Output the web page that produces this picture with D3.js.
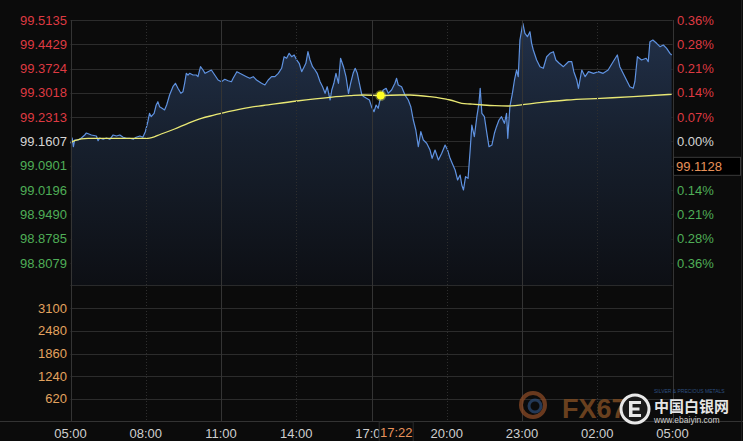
<!DOCTYPE html>
<html><head><meta charset="utf-8">
<script src="https://cdn.jsdelivr.net/npm/d3@7"></script>
<style>
html,body{margin:0;padding:0;background:#0b0b0b;}
svg{display:block;}
</style></head>
<body>
<script>
// ---------- DATA ----------
const startLabel = "05:00";
const priceMinutes = [
0,4,7,10,18,26,34,38,50,62,
66,70,78,86,94,102,110,118,126,134,
142,150,157,166,173,179,185,189,193,200,
205,209,213,219,225,230,237,245,251,257,
264,269,273,277,281,285,293,301,305,311,
317,322,329,337,345,353,361,369,377,385,
389,398,405,413,421,429,437,445,457,465,
473,481,489,497,505,511,517,523,529,535,
541,547,553,559,563,568,573,579,585,590,
597,603,609,614,621,625,630,635,641,646,
653,659,665,670,676,681,686,691,697,702,
708,715,720,726,731,736,742,748,755,760,
768,776,780,784,792,800,808,814,820,826,
832,838,844,852,860,865,872,880,888,896,
902,908,913,920,926,932,936,940,945,951,
956,960,966,972,977,980,984,990,996,1001,
1008,1014,1019,1025,1031,1038,1043,1046,1051,1057,
1062,1067,1071,1075,1082,1087,1093,1099,1103,1107,
1115,1123,1131,1139,1147,1155,1161,1169,1179,1191,
1199,1204,1211,1215,1223,1231,1239,1251,1262,1274,
1286,1298,1308,1314,1326,1338,1346,1350,1356,1366,
1377,1382,1386,1393,1402,1410,1418,1426,1434,1438];
const priceValues = [
99.1555,99.1709,99.1456,99.1651,99.1651,99.1709,99.1796,99.1854,99.1796,99.1767,
99.1630,99.1709,99.1671,99.1709,99.1671,99.1796,99.1767,99.1796,99.1729,99.1700,
99.1700,99.1671,99.1729,99.1767,99.1729,99.1892,99.2182,99.2426,99.2327,99.2426,
99.2667,99.2763,99.2618,99.2571,99.2522,99.2667,99.2957,99.3198,99.3297,99.3152,
99.3007,99.3053,99.3297,99.3587,99.3538,99.3587,99.3538,99.3538,99.3489,99.3779,
99.3683,99.3587,99.3634,99.3683,99.3538,99.3393,99.3343,99.3413,99.3372,99.3343,
99.3442,99.3634,99.3587,99.3538,99.3489,99.3442,99.3489,99.3393,99.3297,99.3248,
99.3393,99.3489,99.3489,99.3587,99.3733,99.4069,99.4023,99.4168,99.4069,99.4119,
99.3974,99.3878,99.3634,99.3779,99.3878,99.4215,99.3974,99.3779,99.3683,99.3587,
99.3343,99.3198,99.3007,99.3198,99.2812,99.3102,99.3297,99.3587,99.3297,99.4023,
99.3779,99.3489,99.3007,99.3297,99.3587,99.3733,99.3587,99.3297,99.2957,99.2908,
99.2861,99.2812,99.2618,99.2472,99.2667,99.2571,99.2908,99.3102,99.3152,99.3007,
99.3102,99.3297,99.3442,99.3248,99.3198,99.2957,99.2812,99.2618,99.2231,99.1941,
99.1456,99.1892,99.1651,99.1555,99.1360,99.1119,99.1360,99.1070,99.1264,99.1505,
99.1360,99.1119,99.0974,99.0779,99.0489,99.0634,99.0344,99.0199,99.0585,99.0538,
99.1360,99.2086,99.1746,99.2327,99.2716,99.3152,99.2426,99.2327,99.1845,99.1456,
99.1505,99.1845,99.2037,99.2231,99.2327,99.2136,99.2426,99.1700,99.2618,99.3007,
99.3393,99.3683,99.3489,99.4554,99.5039,99.4749,99.4650,99.4795,99.4458,99.4264,
99.3974,99.3779,99.3733,99.4069,99.4168,99.4215,99.3974,99.3878,99.3779,99.3924,
99.3924,99.3634,99.3393,99.3152,99.3683,99.3489,99.3634,99.3587,99.3634,99.3587,
99.3683,99.3924,99.4119,99.3779,99.3489,99.3198,99.3152,99.3343,99.4069,99.3974,
99.4023,99.3924,99.4505,99.4554,99.4458,99.4360,99.4409,99.4313,99.4168,99.4119];
const avgMinutes = [0,10,42,74,114,154,185,217,249,281,313,345,377,429,461,541,621,669,700,742,
788,812,860,908,936,956,987,1015,1047,1107,1187,1267,1346,1438];
const avgValues = [99.1563,99.1630,99.1700,99.1700,99.1700,99.1700,99.1700,99.1825,99.1970,99.2136,
99.2281,99.2377,99.2472,99.2600,99.2652,99.2783,99.2890,99.2937,99.2957,99.2943,
99.2957,99.2957,99.2908,99.2812,99.2716,99.2696,99.2667,99.2647,99.2638,99.2716,
99.2812,99.2861,99.2908,99.2978];
const priceTickLabels = ["99.5135","99.4429","99.3724","99.3018","99.2313","99.1607","99.0901","99.0196","98.9490","98.8785","98.8079"];
const basePrice = 99.1607;
const pctTickLabels = ["0.36%","0.28%","0.21%","0.14%","0.07%","0.00%","0.07%","0.14%","0.21%","0.28%","0.36%"];
const volumeTicks = [620,1240,1860,2480,3100];
const volumeMax = 3720;
const timeTickLabels = ["05:00","08:00","11:00","14:00","17:00","20:00","23:00","02:00","05:00"];
const timeTickMinutes = [0,180,360,540,720,900,1080,1260,1440];
const solidTimeLines = ["11:00","17:00","23:00"];
const markerMinute = 742, markerValue = 99.2943, markerLabel = "17:22";
const cursorPriceLabel = "99.1128", cursorPriceIndex = 6;

// ---------- LAYOUT ----------
const W = 743, H = 441;
const L = 70.5, R = 672.5;
const mainTop = 20, mainBot = 285.5, volTop = 285.5, volBot = 421.5;

const svg = d3.select("body").append("svg").attr("width", W).attr("height", H)
  .style("font-family", "'Liberation Sans', Arial, sans-serif");
svg.append("rect").attr("width", W).attr("height", H).attr("fill", "#0b0b0b");

const x = d3.scaleLinear().domain([0, 1440]).range([L, R]);
const y = d3.scaleLinear().domain([+priceTickLabels[priceTickLabels.length-1], +priceTickLabels[0]]).range([263, mainTop]);
const yv = d3.scaleLinear().domain([0, volumeMax]).range([volBot, volTop]);

const defs = svg.append("defs");
const grad = defs.append("linearGradient").attr("id", "areaGrad")
  .attr("gradientUnits", "userSpaceOnUse").attr("x1", 0).attr("x2", 0).attr("y1", mainTop).attr("y2", mainBot);
grad.append("stop").attr("offset", 0).attr("stop-color", "#22314a");
grad.append("stop").attr("offset", 0.45).attr("stop-color", "#17202e");
grad.append("stop").attr("offset", 1).attr("stop-color", "#0d0f14");
defs.append("clipPath").attr("id", "mainClip").append("rect")
  .attr("x", L).attr("y", mainTop).attr("width", R - L).attr("height", mainBot - mainTop);

// horizontal grid (main)
const gridColor = "#2c2c2c";
svg.append("g").selectAll("line").data(priceTickLabels).join("line")
  .attr("x1", L).attr("x2", R).attr("y1", d => Math.round(y(+d)) + 0.5).attr("y2", d => Math.round(y(+d)) + 0.5)
  .attr("stroke", gridColor).attr("stroke-width", 1);
// volume grid
svg.append("g").selectAll("line").data(volumeTicks).join("line")
  .attr("x1", L).attr("x2", R).attr("y1", d => Math.round(yv(d)) + 0.5).attr("y2", d => Math.round(yv(d)) + 0.5)
  .attr("stroke", gridColor);
// panel divider
svg.append("line").attr("x1", L).attr("x2", R).attr("y1", mainBot).attr("y2", mainBot).attr("stroke", "#333");
// bottom axis line
svg.append("line").attr("x1", 0).attr("x2", W).attr("y1", volBot).attr("y2", volBot).attr("stroke", "#333");

// area + lines
const priceData = d3.zip(priceMinutes, priceValues);
const avgData = d3.zip(avgMinutes, avgValues);
const g = svg.append("g").attr("clip-path", "url(#mainClip)");
g.append("path").datum(priceData)
  .attr("d", d3.area().x(d => x(d[0])).y0(mainBot).y1(d => y(d[1])))
  .attr("fill", "url(#areaGrad)");

// vertical grid
timeTickLabels.forEach((lab, i) => {
  const xx = Math.round(x(timeTickMinutes[i])) + 0.5;
  const solid = solidTimeLines.includes(lab) || i === 0 || i === timeTickLabels.length - 1;
  svg.append("line").attr("x1", xx).attr("x2", xx).attr("y1", mainTop).attr("y2", volBot)
    .attr("stroke", solid ? "#343434" : "#2e2e2e").attr("stroke-dasharray", solid ? null : "1,2");
});
svg.append("line").attr("x1", 741.5).attr("x2", 741.5).attr("y1", 0).attr("y2", H).attr("stroke", "#1e1e1e");

g.append("path").datum(priceData)
  .attr("d", d3.line().x(d => x(d[0])).y(d => y(d[1])))
  .attr("fill", "none").attr("stroke", "#5f92e0").attr("stroke-width", 1.2).attr("stroke-linejoin", "round");
g.append("path").datum(avgData)
  .attr("d", d3.line().curve(d3.curveMonotoneX).x(d => x(d[0])).y(d => y(d[1])))
  .attr("fill", "none").attr("stroke", "#e9e874").attr("stroke-width", 1.3);

// marker dot
svg.append("circle").attr("cx", x(markerMinute)).attr("cy", y(markerValue)).attr("r", 5.5).attr("fill", "#ffff66").attr("opacity", 0.35);
svg.append("circle").attr("cx", x(markerMinute)).attr("cy", y(markerValue)).attr("r", 4).attr("fill", "#ffff22");

// left labels
const red = "#de3a42", green = "#4fae57", white = "#d6d6d6";
const baseIdx = priceTickLabels.indexOf(basePrice.toFixed(4));
svg.append("g").selectAll("text").data(priceTickLabels).join("text")
  .attr("x", 67).attr("y", d => y(+d) + 4.5).attr("text-anchor", "end").attr("font-size", 13)
  .attr("fill", (d, i) => i < baseIdx ? red : (i === baseIdx ? white : green)).text(d => d);
// right labels
svg.append("g").selectAll("text").data(pctTickLabels).join("text")
  .attr("x", 677).attr("y", (d, i) => y(+priceTickLabels[i]) + 4.5).attr("font-size", 13)
  .attr("fill", (d, i) => i < baseIdx ? red : (i === baseIdx ? white : green))
  .text((d, i) => i === cursorPriceIndex ? "" : d);
// cursor price box
const cy = y(+priceTickLabels[cursorPriceIndex]);
svg.append("rect").attr("x", 673.5).attr("y", cy - 8.5).attr("width", 67).attr("height", 18)
  .attr("fill", "#000").attr("stroke", "#3a3a3a");
svg.append("text").attr("x", 676).attr("y", cy + 5).attr("font-size", 13).attr("fill", "#e8925a").text(cursorPriceLabel);

// volume labels
svg.append("g").selectAll("text").data(volumeTicks).join("text")
  .attr("x", 67).attr("y", d => yv(d) + 4.5).attr("text-anchor", "end").attr("font-size", 13)
  .attr("fill", "#e3a35f").text(d => d);

// time labels
svg.append("g").selectAll("text").data(timeTickLabels).join("text")
  .attr("x", (d, i) => x(timeTickMinutes[i])).attr("y", 438).attr("text-anchor", "middle")
  .attr("font-size", 13).attr("fill", "#cfcfcf").text(d => d);
// cursor time box
const mx = x(markerMinute);
svg.append("rect").attr("x", mx - 1.5).attr("y", volBot + 0.5).attr("width", 34).attr("height", 20)
  .attr("fill", "#0b0b0b").attr("stroke", "#2a2a2a");
svg.append("text").attr("x", mx + 15.5).attr("y", 437).attr("text-anchor", "middle").attr("font-size", 13)
  .attr("fill", "#e8925a").text(markerLabel);

// watermark
const wm = svg.append("g");
wm.append("circle").attr("cx", 533).attr("cy", 405).attr("r", 12).attr("fill", "none").attr("stroke", "#8a4a25").attr("stroke-width", 4).attr("opacity", 0.75);
wm.append("circle").attr("cx", 535).attr("cy", 406).attr("r", 6).attr("fill", "none").attr("stroke", "#2d4d78").attr("stroke-width", 3).attr("opacity", 0.7);
wm.append("text").attr("x", 562).attr("y", 418).attr("font-size", 27).attr("font-weight", "bold")
  .attr("fill", "#7a4a22").attr("opacity", 0.85).text("FX678");
wm.append("text").attr("x", 654).attr("y", 393).attr("font-size", 5).attr("fill", "#2d4f80").text("SILVER & PRECIOUS METALS");
wm.append("circle").attr("cx", 635).attr("cy", 409).attr("r", 14).attr("fill", "#1a1a1a").attr("stroke", "#e8e8e8").attr("stroke-width", 3);
// "E" mark drawn as a shape
wm.append("path").attr("d", "M629,401 h12 v3 h-8.5 v3.5 h7 v3 h-7 v3.5 h8.5 v3 h-12 Z").attr("fill", "#e8e8e8");
wm.append("text").attr("x", 654).attr("y", 412).attr("font-size", 15).attr("font-weight", "bold")
  .attr("fill", "#e6e6e6").style("font-family", "'Noto Sans CJK SC', sans-serif").text("中国白银网");
wm.append("text").attr("x", 654).attr("y", 423).attr("font-size", 8.5).attr("fill", "#d0d0d0").text("www.ebaiyin.com");
</script>
</body></html>
